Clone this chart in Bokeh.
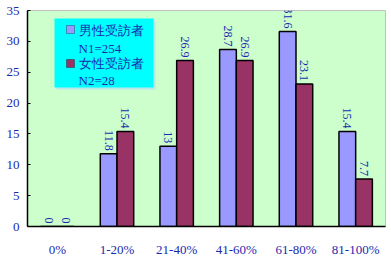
import math
from bokeh.plotting import figure
from bokeh.models import ColumnDataSource, FactorRange, FixedTicker, Range1d, BoxAnnotation, Label
from bokeh.transform import dodge
from bokeh.core.properties import value
from bokeh.embed import file_html
from bokeh.resources import INLINE

categories = ["0%", "1-20%", "21-40%", "41-60%", "61-80%", "81-100%"]
male = [0, 11.8, 13, 28.7, 31.6, 15.4]
female = [0, 15.4, 26.9, 26.9, 23.1, 7.7]
male_labels = ["0", "11.8", "13", "28.7", "31.6", "15.4"]
female_labels = ["0", "15.4", "26.9", "26.9", "23.1", "7.7"]
y_ticks = [0, 5, 10, 15, 20, 25, 30, 35]
legend_labels = ["男性受訪者", "N1=254", "女性受訪者", "N2=28"]
series_colors = ["#9999ff", "#993366"]

src = ColumnDataSource(dict(cat=categories, male=male, female=female,
                            ml=male_labels, fl=female_labels))

BLUE = "#1a2ab0"

p = figure(x_range=FactorRange(*categories, range_padding=0), y_range=Range1d(0, 35),
           width=391, height=259, output_backend="svg", toolbar_location=None,
           min_border_left=27, min_border_right=6, min_border_top=10, min_border_bottom=33)
p.background_fill_color = "#ccffcc"
p.border_fill_color = "white"
p.outline_line_color = "#c0c0c0"
p.xgrid.grid_line_color = None
p.ygrid.grid_line_color = None

p.vbar(x=dodge("cat", -0.14, range=p.x_range), top="male", width=0.28, source=src,
       fill_color=series_colors[0], line_color="black", line_width=1.5)
p.vbar(x=dodge("cat", 0.14, range=p.x_range), top="female", width=0.28, source=src,
       fill_color=series_colors[1], line_color="black", line_width=1.5)

for col, lab, off in (("male", "ml", -0.14), ("female", "fl", 0.14)):
    p.text(x=dodge("cat", off, range=p.x_range), y=col, text=lab, source=src,
           angle=-math.pi / 2, text_align="right", text_baseline="middle",
           y_offset=-3, text_color=BLUE, text_font=value("Liberation Serif"),
           text_font_size="12px")

# legend drawn by hand (screen units relative to the plot frame, y upward)
def sbox(l, r, t, b, **kw):
    return BoxAnnotation(left=l, right=r, top=t, bottom=b,
                         left_units="screen", right_units="screen",
                         top_units="screen", bottom_units="screen", fill_alpha=1, **kw)

p.add_layout(sbox(29, 128, 206, 137, fill_color="#b8e8e8", line_color=None))
p.add_layout(sbox(27, 126, 208, 139, fill_color="#00ffff", line_color=None))
p.add_layout(sbox(39, 47, 201, 193, fill_color=series_colors[0], line_color="black", line_width=1))
p.add_layout(sbox(39, 47, 167, 159, fill_color=series_colors[1], line_color="black", line_width=1))
for txt, yy in zip(legend_labels, [196, 178.5, 163, 146]):
    p.add_layout(Label(x=51, y=yy, x_units="screen", y_units="screen", text=txt,
                       text_baseline="middle", text_align="left", text_color=BLUE,
                       text_font="Liberation Serif", text_font_size="13px"))

p.yaxis.ticker = FixedTicker(ticks=y_ticks)
p.yaxis.major_tick_in = 3
p.yaxis.major_tick_out = 0
p.yaxis.minor_tick_line_color = None
p.yaxis.major_label_standoff = 8
p.xaxis.major_tick_line_color = None
p.xaxis.major_label_standoff = 9
for ax in (p.xaxis, p.yaxis):
    ax.axis_line_color = "black"
    ax.axis_line_width = 1.5
    ax.major_label_text_color = BLUE
    ax.major_label_text_font = "Liberation Serif"
    ax.major_label_text_font_size = "13px"

open("out.html", "w").write(file_html(p, INLINE))
